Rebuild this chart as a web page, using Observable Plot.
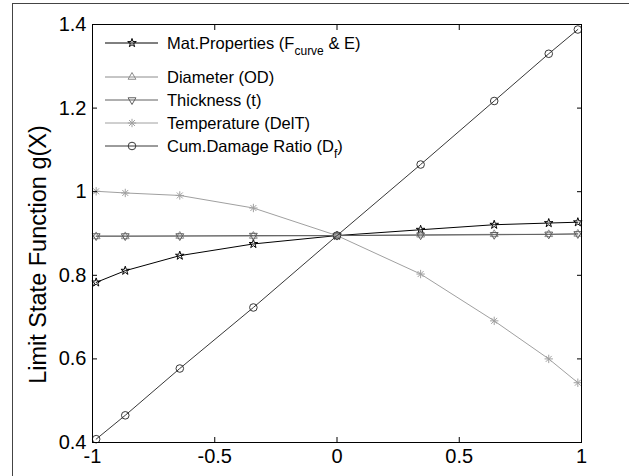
<!DOCTYPE html>
<html><head><meta charset="utf-8">
<script src="https://cdn.jsdelivr.net/npm/d3@7"></script>
<script src="https://cdn.jsdelivr.net/npm/@observablehq/plot@0.6"></script>
<style>
html,body{margin:0;padding:0;background:#fff;}
#wrap{position:relative;width:629px;height:476px;overflow:hidden;font-family:"Liberation Sans",Arial,sans-serif;}
#border{position:absolute;left:12px;top:3px;width:640px;height:490px;border-left:1px solid #444;border-top:1px solid #444;}
#wrap svg{position:absolute;left:0;top:0;}
</style></head><body><div id="wrap"><div id="border"></div></div>
<script>
// ---- data ----
const xValues     = [-0.985, -0.866, -0.643, -0.342, 0, 0.342, 0.643, 0.866, 0.985];
const matProps    = [0.783, 0.811, 0.847, 0.875, 0.895, 0.909, 0.921, 0.925, 0.927];
const diameter    = [0.893, 0.893, 0.894, 0.894, 0.895, 0.897, 0.898, 0.898, 0.899];
const thickness   = [0.894, 0.894, 0.894, 0.895, 0.895, 0.896, 0.897, 0.898, 0.899];
const temperature = [1.001, 0.997, 0.991, 0.961, 0.895, 0.803, 0.691, 0.600, 0.543];
const cumDamage   = [0.408, 0.465, 0.577, 0.723, 0.895, 1.065, 1.217, 1.330, 1.388];
const xTicks = [-1, -0.5, 0, 0.5, 1];
const yTicks = [0.4, 0.6, 0.8, 1, 1.2, 1.4];
const yLabel = "Limit State Function g(X)";
const legendParts = [
  ["Mat.Properties (F", "curve", " & E)"],
  ["Diameter (OD)"],
  ["Thickness (t)"],
  ["Temperature (DelT)"],
  ["Cum.Damage Ratio (D", "f", ")"]
];

// ---- marker symbols (MATLAB style) ----
const triUp = {draw(c, size){const r=Math.sqrt(size/Math.PI); c.moveTo(0,-r); c.lineTo(r*0.866,r*0.5); c.lineTo(-r*0.866,r*0.5); c.closePath();}};
const triDown = {draw(c, size){const r=Math.sqrt(size/Math.PI); c.moveTo(0,r); c.lineTo(r*0.866,-r*0.5); c.lineTo(-r*0.866,-r*0.5); c.closePath();}};
const asterisk = {draw(c, size){const r=Math.sqrt(size/Math.PI), d=r*Math.SQRT1_2;
  c.moveTo(0,-r); c.lineTo(0,r); c.moveTo(-r,0); c.lineTo(r,0);
  c.moveTo(-d,-d); c.lineTo(d,d); c.moveTo(-d,d); c.lineTo(d,-d);}};

const series = [
  {values: matProps,    stroke: "#000000", symbol: d3.symbolStar,   r: 2.7},
  {values: diameter,    stroke: "#8c8c8c", symbol: triUp,           r: 4.5},
  {values: thickness,   stroke: "#606060", symbol: triDown,         r: 4.5},
  {values: temperature, stroke: "#a0a0a0", symbol: asterisk,        r: 4.2},
  {values: cumDamage,   stroke: "#383838", symbol: d3.symbolCircle, r: 3.8}
];
series.forEach((s, i) => s.data = xValues.map((x, j) => ({x, y: s.values[j]})));

const font = "Liberation Sans, Arial, sans-serif";
const marks = [];
for (const s of series) {
  marks.push(Plot.line(s.data, {x: "x", y: "y", stroke: s.stroke, strokeWidth: 1}));
  marks.push(Plot.dot(s.data, {x: "x", y: "y", stroke: s.stroke, fill: "none", symbol: s.symbol, r: s.r, strokeWidth: 1}));
}
marks.push(
  Plot.frame({stroke: "#000", strokeWidth: 1}),
  Plot.axisX(xTicks, {anchor: "bottom", tickSize: 0, tickPadding: 6, tickFormat: d => String(d), fontSize: 20, label: null}),
  Plot.axisX(xTicks, {anchor: "bottom", tickSize: 5, dy: -5, tickFormat: () => "", label: null}),
  Plot.axisX(xTicks, {anchor: "top", tickSize: 5, dy: 5, tickFormat: () => "", label: null}),
  Plot.axisY(yTicks, {anchor: "left", tickSize: 0, tickPadding: 6, tickFormat: d => String(d), fontSize: 20, label: null}),
  Plot.axisY(yTicks, {anchor: "left", tickSize: 5, dx: 5, tickFormat: () => "", label: null}),
  Plot.axisY(yTicks, {anchor: "right", tickSize: 5, dx: -5, tickFormat: () => "", label: null}),
  Plot.text([yLabel], {frameAnchor: "left", text: d => d, textAnchor: "middle", dx: -54, dy: 21, rotate: -90, fontSize: 23.5, fill: "#000"})
);

const chart = Plot.plot({
  width: 629, height: 476,
  marginLeft: 92, marginRight: 48, marginTop: 24, marginBottom: 34,
  style: {fontFamily: font, fontSize: "20px", color: "#000", background: "transparent", overflow: "visible"},
  x: {domain: [-1, 1]},
  y: {domain: [0.4, 1.4]},
  marks
});
document.getElementById("wrap").appendChild(chart);

// ---- legend (overlay, inside the axes, no box) ----
const leg = d3.select("#wrap").append("svg").attr("width", 629).attr("height", 476)
  .style("pointer-events", "none").attr("font-family", font).attr("font-size", 16.5);
series.forEach((s, i) => {
  const y = i === 0 ? 43 : 77 + (i - 1) * 23;
  const g = leg.append("g").attr("transform", `translate(0,${y})`);
  g.append("line").attr("x1", 105).attr("x2", 158).attr("y1", 0).attr("y2", 0)
    .attr("stroke", s.stroke).attr("stroke-width", 1);
  g.append("path").attr("transform", "translate(132,0)")
    .attr("d", d3.symbol(s.symbol, Math.PI * s.r * s.r)())
    .attr("fill", "none").attr("stroke", s.stroke).attr("stroke-width", 1);
  const t = g.append("text").attr("x", 167).attr("y", 5.5).attr("fill", "#000");
  const parts = legendParts[i];
  t.append("tspan").text(parts[0]);
  if (parts.length > 1) {
    t.append("tspan").attr("dy", 6).attr("font-size", 12).text(parts[1]);
    t.append("tspan").attr("dy", -6).text(parts[2]);
  }
});
</script>
</body></html>
